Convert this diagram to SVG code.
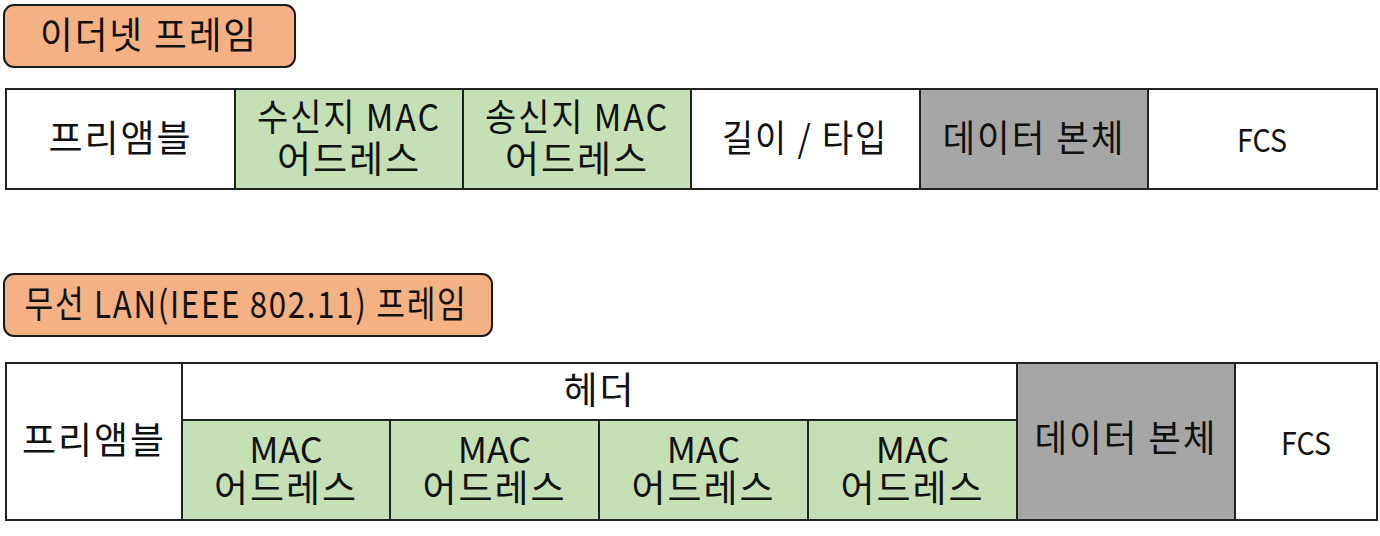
<svg xmlns="http://www.w3.org/2000/svg" width="1380" height="536" viewBox="0 0 1380 536">
<style>
.title{fill:#F4B183;stroke:#1a1a1a;stroke-width:2}
.cell{stroke:#222;stroke-width:2}
.w{fill:#FFFFFF}
.g{fill:#C5E0B4}
.d{fill:#A6A6A6}
text{font-family:"Noto Sans CJK KR","Noto Sans",sans-serif;font-size:37px;fill:#111;text-anchor:middle;letter-spacing:2px}
.lat{font-size:31px;letter-spacing:0}
.mac{font-size:36px;letter-spacing:0}
</style>
<rect width="1380" height="536" fill="#FFFFFF"/>
<g id="title-ethernet">
<rect class="title" x="4" y="5" width="291" height="62" rx="10"/>
<text x="149" y="49" textLength="218" lengthAdjust="spacingAndGlyphs">이더넷 프레임</text>
</g>
<g id="eth-preamble"><rect class="cell w" x="6" y="89" width="229" height="100"/><text x="120.5" y="152">프리앰블</text></g>
<g id="eth-dst"><rect class="cell g" x="235" y="89" width="228" height="100"/><text x="349" y="131" textLength="184" lengthAdjust="spacingAndGlyphs">수신지 MAC</text><text x="349" y="173">어드레스</text></g>
<g id="eth-src"><rect class="cell g" x="463" y="89" width="228" height="100"/><text x="577" y="131" textLength="184" lengthAdjust="spacingAndGlyphs">송신지 MAC</text><text x="577" y="173">어드레스</text></g>
<g id="eth-len"><rect class="cell w" x="691" y="89" width="229" height="100"/><text x="805" y="152" textLength="166" lengthAdjust="spacingAndGlyphs">길이 / 타입</text></g>
<g id="eth-data"><rect class="cell d" x="920" y="89" width="228" height="100"/><text x="1034" y="152" textLength="183" lengthAdjust="spacingAndGlyphs">데이터 본체</text></g>
<g id="eth-fcs"><rect class="cell w" x="1148" y="89" width="229" height="100"/><text class="lat" x="1262" y="152" textLength="50" lengthAdjust="spacingAndGlyphs">FCS</text></g>

<g id="title-wlan">
<rect class="title" x="4" y="274" width="488" height="62" rx="10"/>
<text x="246" y="318" textLength="443" lengthAdjust="spacingAndGlyphs">무선 LAN(IEEE 802.11) 프레임</text>
</g>
<g id="wlan-preamble"><rect class="cell w" x="6" y="363" width="176" height="157"/><text x="94" y="454">프리앰블</text></g>
<g id="wlan-header"><rect class="cell w" x="182" y="363" width="835" height="57"/><text x="599.5" y="404">헤더</text></g>
<g id="wlan-mac1"><rect class="cell g" x="182" y="420" width="208" height="100"/><text class="mac" x="286" y="463">MAC</text><text x="286" y="502">어드레스</text></g>
<g id="wlan-mac2"><rect class="cell g" x="390" y="420" width="209" height="100"/><text class="mac" x="494.5" y="463">MAC</text><text x="494.5" y="502">어드레스</text></g>
<g id="wlan-mac3"><rect class="cell g" x="599" y="420" width="209" height="100"/><text class="mac" x="703.5" y="463">MAC</text><text x="703.5" y="502">어드레스</text></g>
<g id="wlan-mac4"><rect class="cell g" x="808" y="420" width="209" height="100"/><text class="mac" x="912.5" y="463">MAC</text><text x="912.5" y="502">어드레스</text></g>
<g id="wlan-data"><rect class="cell d" x="1017" y="363" width="218" height="157"/><text x="1126" y="452" textLength="183" lengthAdjust="spacingAndGlyphs">데이터 본체</text></g>
<g id="wlan-fcs"><rect class="cell w" x="1235" y="363" width="142" height="157"/><text class="lat" x="1306" y="455" textLength="50" lengthAdjust="spacingAndGlyphs">FCS</text></g>
<g id="connectors"></g>
</svg>
